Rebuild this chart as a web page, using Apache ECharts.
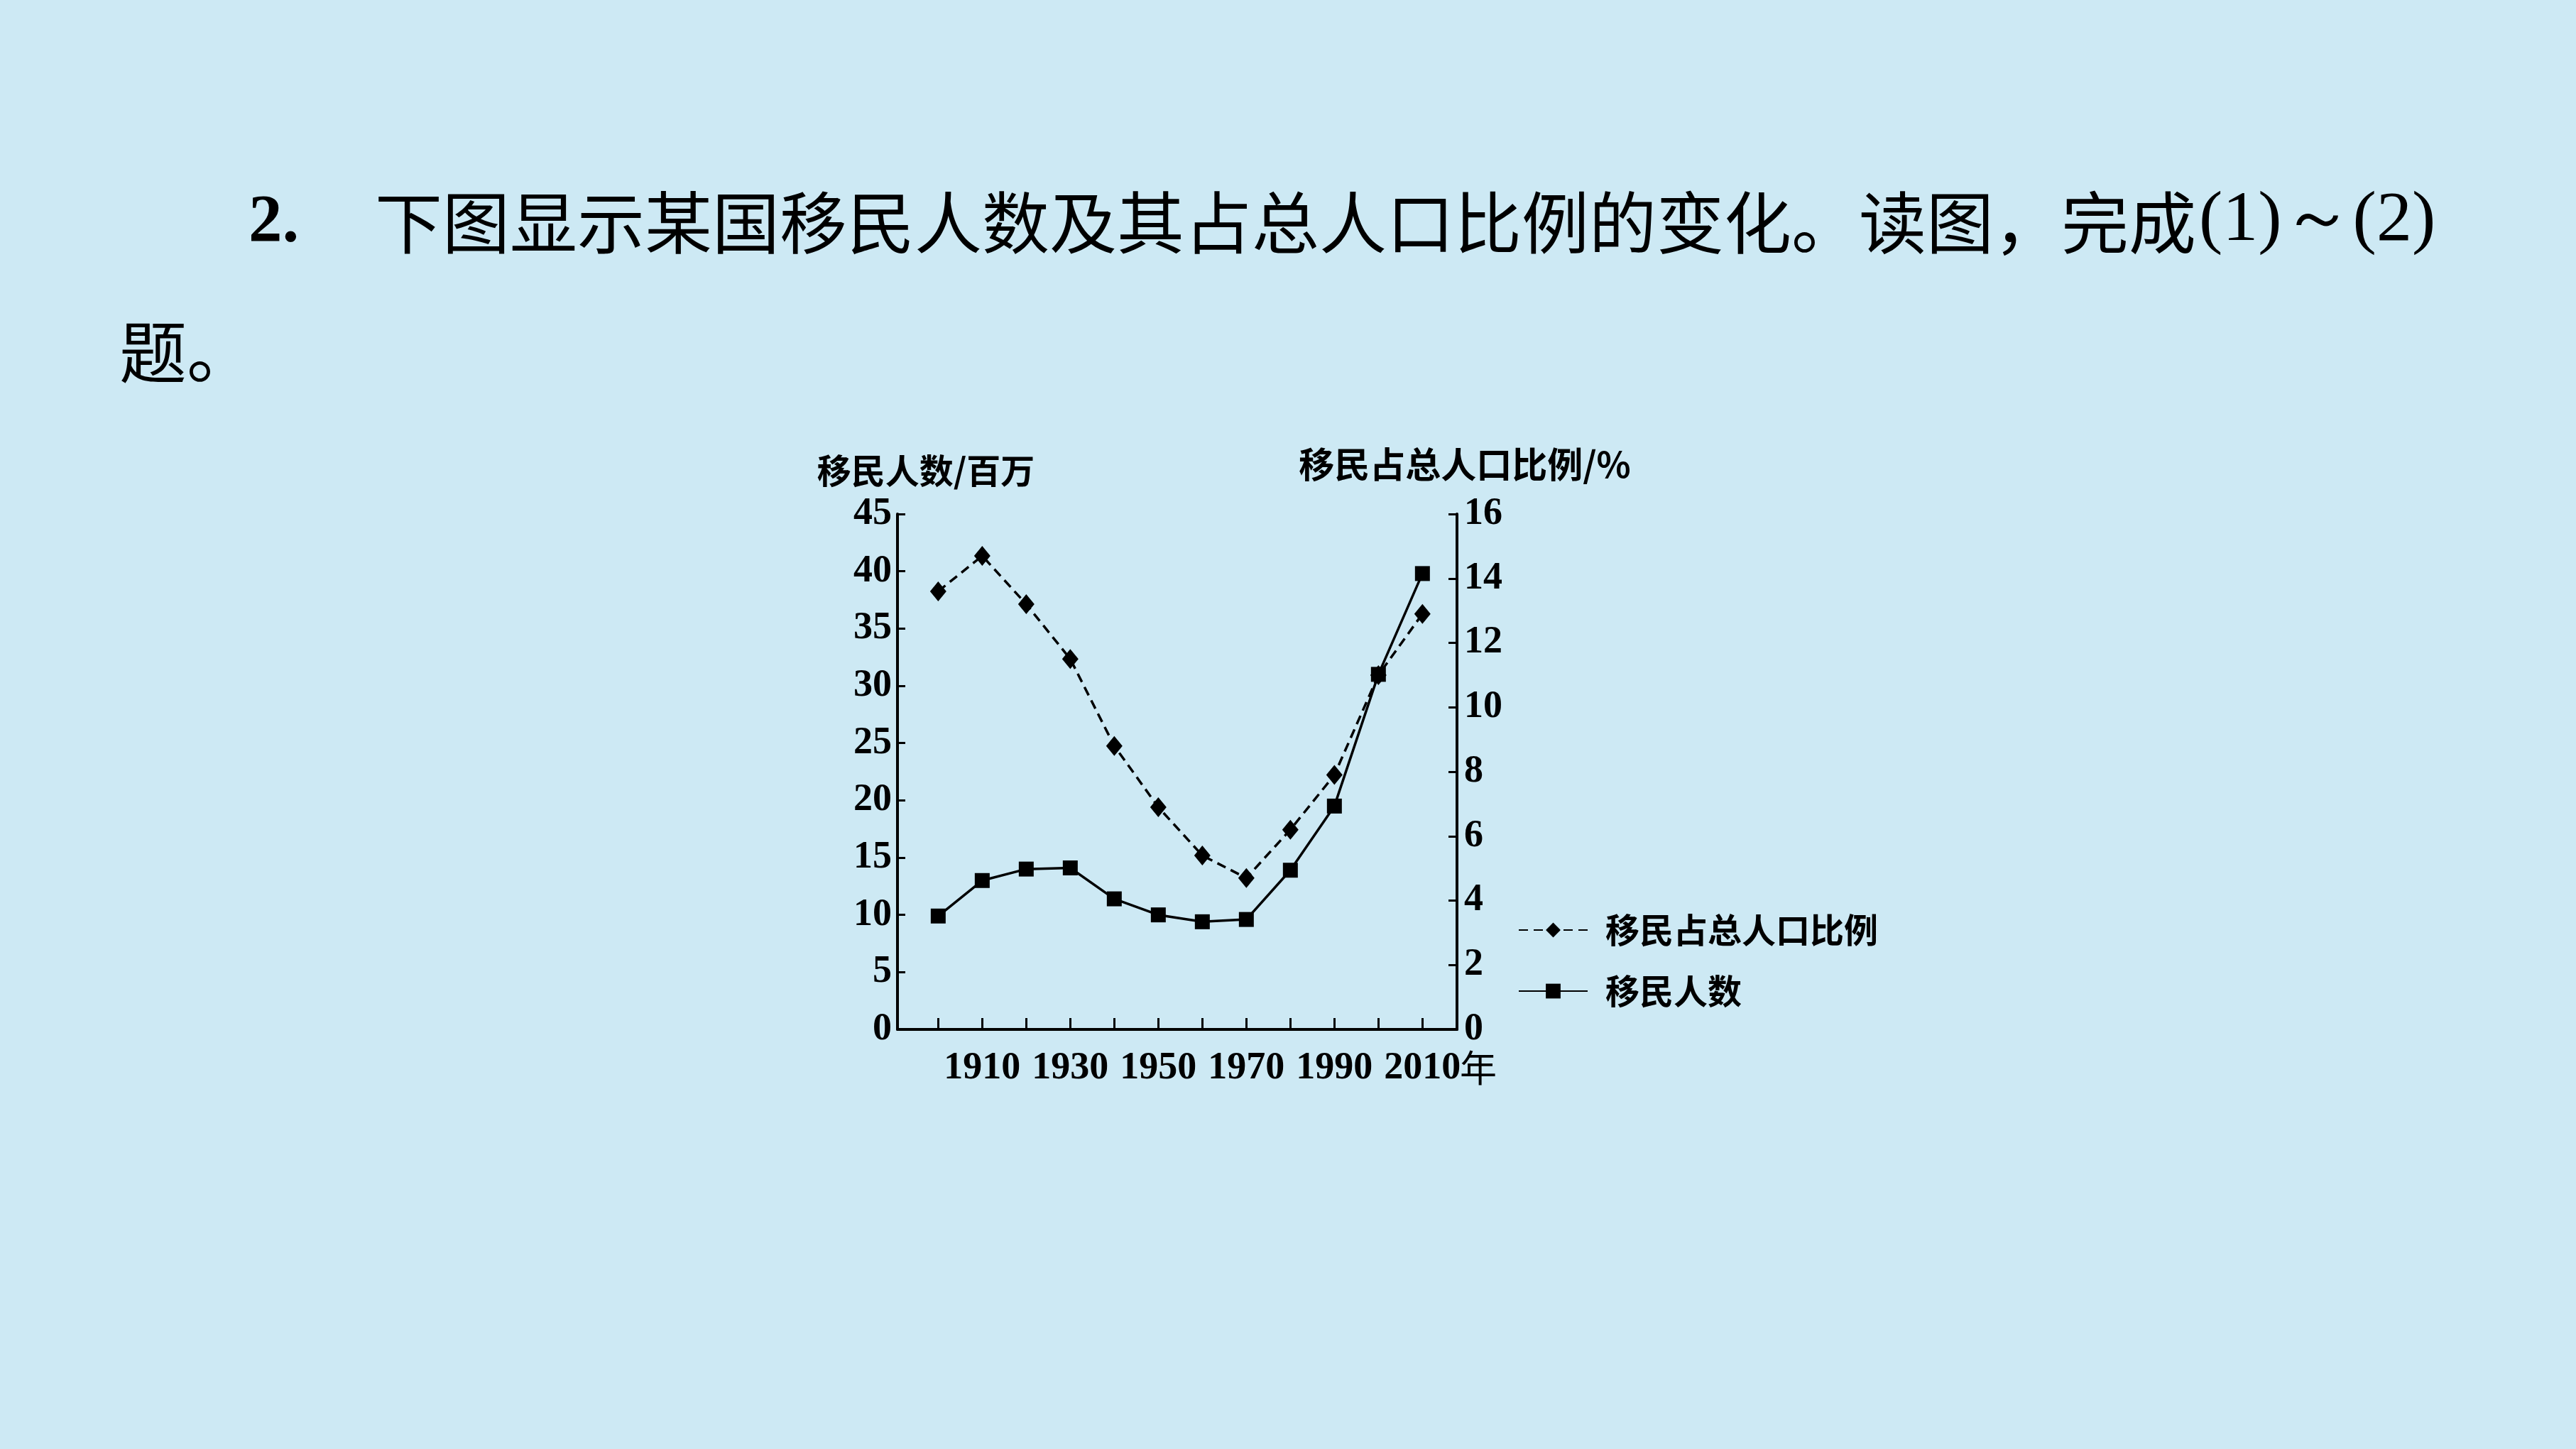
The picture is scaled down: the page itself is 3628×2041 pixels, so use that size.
<!DOCTYPE html>
<html><head><meta charset="utf-8">
<script src="https://cdn.jsdelivr.net/npm/echarts@6/dist/echarts.min.js"></script>
<style>html,body{margin:0;padding:0;background:#cde9f4;}#c{width:3628px;height:2041px;}</style>
</head><body><div id="c"></div>
<script>
// ---- data ----
const years = [1900, 1910, 1920, 1930, 1940, 1950, 1960, 1970, 1980, 1990, 2000, 2010];
const migrants = [9.9, 13.0, 14.0, 14.1, 11.4, 10.0, 9.4, 9.6, 13.9, 19.5, 31.0, 39.8];   // 百万
const ratio = [13.6, 14.7, 13.2, 11.5, 8.8, 6.9, 5.4, 4.7, 6.2, 7.9, 11.0, 12.9];          // %
const xTickYears = [1900, 1910, 1920, 1930, 1940, 1950, 1960, 1970, 1980, 1990, 2000, 2010];
const xLabelYears = [1910, 1930, 1950, 1970, 1990, 2010];
const seriesNames = ['移民占总人口比例', '移民人数'];
const leftAxisName = '移民人数/百万';
const rightAxisName = '移民占总人口比例/%';
const questionLine1a = '2.';
const questionLine1b = '下图显示某国移民人数及其占总人口比例的变化。读图，完成';
const questionLine1c = '(1)～(2)';
const questionLine2 = '题。';

const SERIF = '"Liberation Serif","Times New Roman",serif';
const CJK = '"Noto Sans CJK SC",sans-serif';
const numLabel = { fontFamily: SERIF, fontWeight: 'bold', fontSize: 54, color: '#000' };

const chart = echarts.init(document.getElementById('c'), null, { renderer: 'canvas' });
chart.setOption({
  animation: false,
  backgroundColor: '#cde9f4',
  grid: { left: 1264, top: 724, width: 788, height: 726, containLabel: false },
  legend: {
    data: seriesNames,
    orient: 'vertical',
    left: 2133, top: 1281,
    itemWidth: 97, itemHeight: 26, itemGap: 38,
    textStyle: { fontFamily: CJK, fontWeight: 'bold', fontSize: 48, color: '#000', padding: [0, 0, 0, 20] }
  },
  xAxis: {
    type: 'value', min: 1890.75, max: 2017.85,
    axisLine: { show: true, lineStyle: { color: '#000', width: 4 } },
    axisTick: { show: true, inside: true, length: 16, lineStyle: { color: '#000', width: 3 }, customValues: xTickYears },
    axisLabel: Object.assign({ customValues: xLabelYears, margin: 28, formatter: v => String(v) }, numLabel),
    splitLine: { show: false }
  },
  yAxis: [
    {
      type: 'value', position: 'left', min: 0, max: 45, interval: 5,
      name: leftAxisName, nameLocation: 'end', nameGap: 37,
      nameTextStyle: { fontFamily: CJK, fontWeight: 'bold', fontSize: 48, color: '#000', padding: [0, 0, 0, 80] },
      axisLine: { show: true, lineStyle: { color: '#000', width: 4 } },
      axisTick: { show: true, inside: true, length: 11, lineStyle: { color: '#000', width: 3 } },
      axisLabel: Object.assign({ margin: 8 }, numLabel),
      splitLine: { show: false }
    },
    {
      type: 'value', position: 'right', min: 0, max: 16, interval: 2,
      name: rightAxisName, nameLocation: 'end', nameGap: 45,
      nameTextStyle: { fontFamily: CJK, fontWeight: 'bold', fontSize: 50, color: '#000', padding: [0, 0, 0, 22] },
      axisLine: { show: true, lineStyle: { color: '#000', width: 4 } },
      axisTick: { show: true, inside: true, length: 12, lineStyle: { color: '#000', width: 3 } },
      axisLabel: Object.assign({ margin: 10 }, numLabel),
      splitLine: { show: false }
    }
  ],
  series: [
    {
      name: seriesNames[0], type: 'line', yAxisIndex: 1,
      data: years.map((y, i) => [y, ratio[i]]),
      symbol: 'diamond', symbolSize: [23, 28],
      lineStyle: { color: '#000', width: 3.5, type: [13, 8] },
      itemStyle: { color: '#000' }, z: 3
    },
    {
      name: seriesNames[1], type: 'line', yAxisIndex: 0,
      data: years.map((y, i) => [y, migrants[i]]),
      symbol: 'rect', symbolSize: 21,
      lineStyle: { color: '#000', width: 3.5, type: 'solid' },
      itemStyle: { color: '#000' }, z: 4
    }
  ],
  graphic: [
    { type: 'text', left: 350, top: 268, style: { text: questionLine1a, font: 'bold 95px ' + SERIF, fill: '#000' } },
    { type: 'text', left: 528, top: 266, style: { text: questionLine1b, font: '95px ' + CJK, fill: '#000' } },
    { type: 'text', left: 3097, top: 262, style: { text: questionLine1c, font: '100px ' + SERIF, fill: '#000' } },
    { type: 'text', left: 168, top: 448, style: { text: questionLine2, font: '95px ' + CJK, fill: '#000' } },
    { type: 'text', left: 2056, top: 1478, style: { text: '年', font: '52px ' + CJK, fill: '#000' } }
  ]
});
</script></body></html>
